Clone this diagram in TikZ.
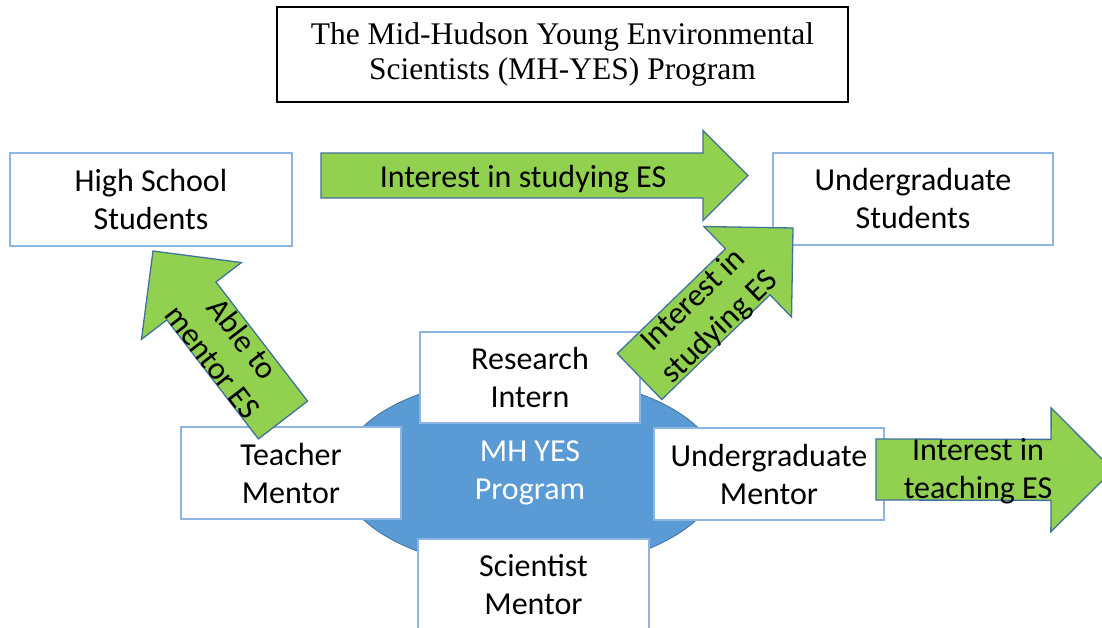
\documentclass[tikz,border=0pt]{standalone}
\usepackage{fontspec}
\setmainfont{Carlito}
\newfontfamily\titlefont{Liberation Serif}
\usetikzlibrary{calc,shapes.geometric}
\definecolor{boxblue}{HTML}{8DB4E2}
\definecolor{progblue}{HTML}{5B9BD5}
\definecolor{edgeblue}{HTML}{41719C}
\definecolor{arrowgreen}{HTML}{92D050}
\tikzset{
	infobox/.style={draw=boxblue, line width=1.2pt, fill=white, align=center, font=\fontsize{32}{38}\selectfont},
	greenarrow/.style={draw=edgeblue, line width=1.3pt, fill=arrowgreen, line join=miter},
	arrowtext/.style={align=center, font=\fontsize{32}{38}\selectfont}
}
\def\fatarrow[#1](#2)(#3)(#4:#5){\coordinate (hb) at ($(#3)!#5!(#2)$);
	\draw[#1] ($(#2)!#4!90:(#3)$) -- ($(hb)!#4!90:(#3)$) -- ($(hb)!#5!90:(#3)$) -- (#3) -- ($(hb)!#5!-90:(#3)$) -- ($(hb)!#4!-90:(#3)$) -- ($(#2)!#4!-90:(#3)$) -- cycle;}

\begin{document}
\begin{tikzpicture}[x=1pt, y=-1pt]
	%%%%% BEGIN %%%%%
	\useasboundingbox (0,0) rectangle (1102,627);
	\clip (0,0) rectangle (1102,627);
	
	\node[draw=black, line width=1.5pt, minimum width=571, minimum height=95, align=center, font=\titlefont\fontsize{31.5}{35}\selectfont] (title) at (562.5,54.5) {The Mid-Hudson Young Environmental\\Scientists (MH-YES) Program};
	
	\node[infobox, minimum width=282, minimum height=93] (hs) at (151,199.5) {High School\\Students};
	\node[infobox, minimum width=280, minimum height=92] (ug) at (913,199) {Undergraduate\\Students};
	
	\node[ellipse, fill=progblue, draw=edgeblue, line width=0.8pt, minimum width=380, minimum height=194, text=white, align=center, font=\fontsize{32}{38}\selectfont] (prog) at (530,473) {MH YES\\Program};
	
	\node[infobox, minimum width=220, minimum height=91] (ri) at (530,377.5) {Research\\Intern};
	\node[infobox, minimum width=220, minimum height=92] (tm) at (291,473) {Teacher\\Mentor};
	\node[infobox, minimum width=230, minimum height=92] (um) at (769,474) {Undergraduate\\Mentor};
	\node[infobox, minimum width=231, minimum height=92] (sm) at (533.5,585) {Scientist\\Mentor};
	
	\coordinate (studyTail) at (321,175.5);
	\coordinate (studyTip) at (748,175.5);
	\fatarrow[greenarrow](studyTail)(studyTip)(22.5pt:45pt);
	\node[arrowtext] (studyText) at (523,179) {Interest in studying ES};
	
	\coordinate (mentorTail) at (283,420);
	\coordinate (mentorTip) at (153,251);
	\fatarrow[greenarrow](mentorTail)(mentorTip)(31pt:63pt);
	\node[arrowtext, rotate=-52.4] (mentorText) at (228,350) {Able to\\mentor ES};
	
	\coordinate (internTail) at (639.5,376.5);
	\coordinate (internTip) at (793,228);
	\fatarrow[greenarrow](internTail)(internTip)(32pt:63pt);
	\node[arrowtext, rotate=44] (internText) at (707,314) {Interest in\\studying ES};
	
	\coordinate (teachTail) at (876,469.5);
	\coordinate (teachTip) at (1113,470);
	\fatarrow[greenarrow](teachTail)(teachTip)(30.5pt:62pt);
	\node[arrowtext] (teachText) at (978,471) {Interest in\\teaching ES};
	
	%%%%% END %%%%%
\end{tikzpicture}
\end{document}
